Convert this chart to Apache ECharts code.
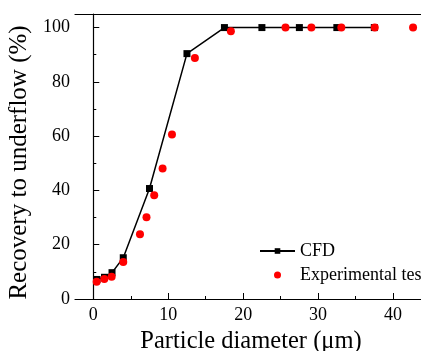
<!DOCTYPE html>
<html><head><meta charset="utf-8">
<script src="https://cdn.jsdelivr.net/npm/echarts@6/dist/echarts.min.js"></script>
<style>html,body{margin:0;padding:0;background:#fff}#c{width:421px;height:351px}</style>
</head><body><div id="c"></div>
<script>
const cfdX = [0.5, 1.5, 2.5, 4, 7.5, 12.5, 17.5, 22.5, 27.5, 32.5, 37.5];
const cfdY = [7.2, 8.0, 9.7, 15.2, 40.7, 90.4, 100, 100, 100, 100, 100];
const expX = [0.45, 1.47, 2.45, 4.0, 6.23, 7.1, 8.13, 9.25, 10.5, 13.56, 18.36, 25.65, 29.1, 33.1, 37.56, 42.67];
const expY = [6.4, 7.4, 8.2, 13.6, 23.9, 30.1, 38.2, 48.1, 60.6, 88.8, 98.6, 100, 100, 100, 100, 100];
const xMajor = [0, 10, 20, 30, 40];
const xMinor = [5, 15, 25, 35];
const yMajor = [0, 20, 40, 60, 80, 100];
const yMinor = [10, 30, 50, 70, 90];

const font = '"Liberation Serif", "Times New Roman", serif';
const XMIN = -2.44, XMAX = 43.73, YMIN = 0, YMAX = 105;
const chart = echarts.init(document.getElementById('c'));
const axLine = {show: true, lineStyle: {color: '#000', width: 1.2}};
chart.setOption({
  animation: false,
  grid: {left: 75, right: 0, top: 14, bottom: 52, containLabel: false, outerBoundsMode: 'none'},
  legend: {
    orient: 'vertical', left: 254, top: 237, itemGap: 6, itemWidth: 35, itemHeight: 7,
    textStyle: {fontFamily: font, fontSize: 18, color: '#000'},
    data: [{name: 'CFD'}, {name: 'Experimental test', icon: 'circle'}]
  },
  xAxis: [
    {type: 'value', min: XMIN, max: XMAX, position: 'bottom',
     name: 'Particle diameter (\u03bcm)', nameLocation: 'middle', nameGap: 25,
     nameTextStyle: {fontFamily: font, fontSize: 24.5, color: '#000', padding: [0, 0, 0, 6]},
     axisLine: axLine, splitLine: {show: false},
     axisTick: {show: true, inside: true, length: 6, customValues: xMajor, lineStyle: {color: '#000'}},
     axisLabel: {customValues: xMajor, fontFamily: font, fontSize: 18, color: '#000', margin: 7}},
    {type: 'value', min: XMIN, max: XMAX, position: 'bottom',
     axisLine: {show: false}, splitLine: {show: false},
     axisTick: {show: true, inside: true, length: 3, customValues: xMinor, lineStyle: {color: '#000'}},
     axisLabel: {show: false}},
    {type: 'value', min: XMIN, max: XMAX, position: 'top',
     axisLine: axLine, splitLine: {show: false}, axisTick: {show: false}, axisLabel: {show: false}}
  ],
  yAxis: [
    {type: 'value', min: YMIN, max: YMAX, position: 'left',
     name: 'Recovery to underflow (%)', nameLocation: 'middle', nameGap: 32,
     nameTextStyle: {fontFamily: font, fontSize: 25, color: '#000', padding: [0, 12, 0, 0]},
     axisLine: axLine, splitLine: {show: false},
     axisTick: {show: true, inside: true, length: 6, customValues: yMajor, lineStyle: {color: '#000'}},
     axisLabel: {customValues: yMajor, fontFamily: font, fontSize: 18, color: '#000', margin: 5}},
    {type: 'value', min: YMIN, max: YMAX, position: 'left',
     axisLine: {show: false}, splitLine: {show: false},
     axisTick: {show: true, inside: true, length: 3, customValues: yMinor, lineStyle: {color: '#000'}},
     axisLabel: {show: false}}
  ],
  series: [
    {name: 'CFD', type: 'line', xAxisIndex: 0, yAxisIndex: 0,
     data: cfdX.map((x, i) => [x, cfdY[i]]),
     symbol: 'rect', symbolSize: 7, showAllSymbol: true,
     lineStyle: {color: '#000', width: 1.5}, itemStyle: {color: '#000'}, z: 2},
    {name: 'Experimental test', type: 'scatter', xAxisIndex: 0, yAxisIndex: 0,
     data: expX.map((x, i) => [x, expY[i]]),
     symbol: 'circle', symbolSize: 8, itemStyle: {color: '#ff0000', opacity: 1}, z: 3}
  ]
});
</script></body></html>
